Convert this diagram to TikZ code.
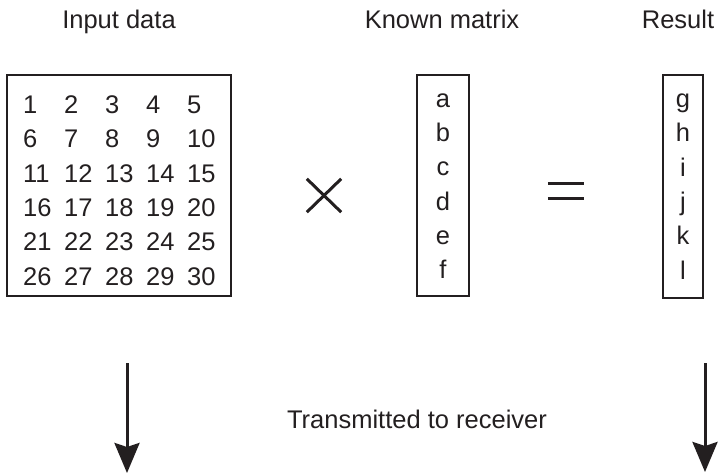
\documentclass[tikz,border=0pt]{standalone}
\usepackage{fontspec}
\setmainfont{Liberation Sans}
\usetikzlibrary{arrows.meta}
\definecolor{ink}{RGB}{35,31,32}
\tikzset{
  lbl/.style={inner sep=0pt, anchor=base, text=ink, font=\fontsize{25.5}{30}\selectfont},
  num/.style={inner sep=0pt, anchor=base west, text=ink, font=\fontsize{25.5}{30}\selectfont},
  frame/.style={draw=ink, line width=2.3pt, inner sep=0pt, rectangle},
  glyph/.style={draw=ink, line width=3pt},
  arr/.style={draw=ink, line width=3pt, -{Stealth[width=25pt,length=30pt,inset=4pt]}}
}
\begin{document}
\begin{tikzpicture}[x=1pt,y=-1pt]
\useasboundingbox (0,0) rectangle (723,475);
% headers
\node[lbl] (hin) at (119,28) {Input data};
\node[lbl] (hkm) at (442,28) {Known matrix};
\node[lbl] (hres) at (678,28) {Result};
% input matrix
\node[frame, minimum width=224pt, minimum height=221pt] (inbox) at (119,185.5) {};
\foreach \r/\y in {0/113,1/147.3,2/182.2,3/216.6,4/250.8,5/285} {
  \foreach \c/\x in {1/23,2/64,3/105,4/146,5/187} {
    \pgfmathtruncatemacro{\v}{\r*5+\c}
    \node[num] (n\v) at (\x,\y) {\v};
  }
}
% times sign
\node[minimum width=34pt, minimum height=33pt, inner sep=0pt] (times) at (324,195.5) {};
\draw[glyph] (times.north west) -- (times.south east);
\draw[glyph] (times.south west) -- (times.north east);
% known matrix
\node[frame, minimum width=52pt, minimum height=221pt] (kbox) at (443,185.5) {};
\foreach \t/\y in {a/107,b/141.7,c/175.5,d/210,e/244.5,f/278.5} {
  \node[lbl] (k\t) at (443,\y) {\t};
}
% equals sign
\node[minimum width=36pt, minimum height=14pt, inner sep=0pt] (eq) at (566,191) {};
\draw[glyph] (eq.north west) -- (eq.north east);
\draw[glyph] (eq.south west) -- (eq.south east);
% result
\node[frame, minimum width=40pt, minimum height=223pt] (rbox) at (683,186.5) {};
\foreach \t/\y in {g/107,h/141.7,i/176,j/210,k/244.5,l/279.5} {
  \node[lbl] (r\t) at (683,\y) {\t};
}
% arrows
\coordinate (la) at (127,363);
\coordinate (lb) at (127,473);
\coordinate (ra) at (705,363);
\coordinate (rb) at (705,472);
\draw[arr] (la) -- (lb);
\draw[arr] (ra) -- (rb);
\node[lbl] (tx) at (417,428) {Transmitted to receiver};
\end{tikzpicture}
\end{document}
